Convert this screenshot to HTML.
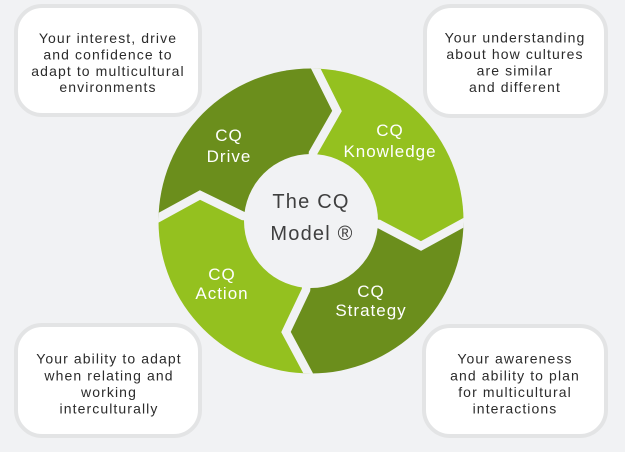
<!DOCTYPE html>
<html>
<head>
<meta charset="utf-8">
<style>
  html, body { margin: 0; padding: 0; background: #f1f2f4; }
  body { width: 625px; height: 452px; overflow: hidden; }
  svg { display: block; }
  .box { fill: #ffffff; stroke: #e3e4e5; stroke-width: 4; }
  .bt { font-family: "Liberation Sans", sans-serif; font-size: 14px; letter-spacing: 1.1px; fill: #2b2b2b; text-anchor: middle; }
  .seg { font-family: "Liberation Sans", sans-serif; font-size: 17px; letter-spacing: 1px; fill: #ffffff; text-anchor: middle; }
  .ctr { font-family: "Liberation Sans", sans-serif; font-size: 20px; letter-spacing: 1.2px; fill: #3f3f3f; text-anchor: middle; }
</style>
</head>
<body>
<svg width="625" height="452" viewBox="0 0 625 452" xmlns="http://www.w3.org/2000/svg">
  <rect x="0" y="0" width="625" height="452" fill="#f1f2f4"/>

  <!-- boxes -->
  <rect class="box" x="16" y="6" width="184" height="109" rx="26" ry="26"/>
  <rect class="box" x="425" y="6" width="181" height="110" rx="26" ry="26"/>
  <rect class="box" x="16" y="325" width="184" height="111" rx="26" ry="26"/>
  <rect class="box" x="424" y="326" width="182" height="110" rx="26" ry="26"/>

  <defs>
    <clipPath id="ring">
      <circle cx="311" cy="221" r="152.5"/>
    </clipPath>
  </defs>

  <g clip-path="url(#ring)">
    <!-- Drive (dark) -->
    <polygon fill="#6b8e1c" points="116,241 200,195 243,216 311,221 313,153 337,111 295,27 120,30"/>
    <!-- Knowledge (light) -->
    <polygon fill="#94c11f" points="295,27 337,111 313,153 311,221 379,224 421,246 505,200 500,30"/>
    <!-- Strategy (dark) -->
    <polygon fill="#6b8e1c" points="505,200 421,246 379,224 311,221 306,290 286,332 330,414 500,410"/>
    <!-- Action (light) -->
    <polygon fill="#94c11f" points="330,414 286,332 306,290 311,221 243,216 200,195 116,241 120,410"/>

    <!-- gaps -->
    <g fill="none" stroke="#f1f2f4" stroke-width="8.5" stroke-linejoin="miter" stroke-miterlimit="10">
      <polyline points="295,27 337,111 313,153 311,200"/>
      <polyline points="505,200 421,246 379,224 330,222"/>
      <polyline points="330,414 286,332 306,290 310,240"/>
      <polyline points="116,241 200,195 243,216 290,220"/>
    </g>
  </g>

  <!-- hole -->
  <circle cx="311" cy="221" r="67" fill="#f1f2f4"/>

  <!-- segment labels -->
  <text class="seg" x="229" y="141">CQ</text>
  <text class="seg" x="229" y="162">Drive</text>
  <text class="seg" x="390" y="136">CQ</text>
  <text class="seg" x="390" y="157">Knowledge</text>
  <text class="seg" x="222" y="280">CQ</text>
  <text class="seg" x="222" y="299">Action</text>
  <text class="seg" x="371" y="297">CQ</text>
  <text class="seg" x="371" y="316">Strategy</text>

  <!-- center -->
  <text class="ctr" x="311" y="208">The CQ</text>
  <text class="ctr" x="312" y="240">Model ®</text>

  <!-- box texts -->
  <text class="bt" x="108" y="43">Your interest, drive</text>
  <text class="bt" x="108" y="59.5">and confidence to</text>
  <text class="bt" x="108" y="76">adapt to multicultural</text>
  <text class="bt" x="108" y="92">environments</text>

  <text class="bt" x="515" y="42.5">Your understanding</text>
  <text class="bt" x="515" y="59">about how cultures</text>
  <text class="bt" x="515" y="75.5">are similar</text>
  <text class="bt" x="515" y="92">and different</text>

  <text class="bt" x="109" y="363.5">Your ability to adapt</text>
  <text class="bt" x="109" y="380.5">when relating and</text>
  <text class="bt" x="109" y="397">working</text>
  <text class="bt" x="109" y="413.5">interculturally</text>

  <text class="bt" x="515" y="363.5">Your awareness</text>
  <text class="bt" x="515" y="380.5">and ability to plan</text>
  <text class="bt" x="515" y="397">for multicultural</text>
  <text class="bt" x="515" y="413.5">interactions</text>
</svg>
</body>
</html>
